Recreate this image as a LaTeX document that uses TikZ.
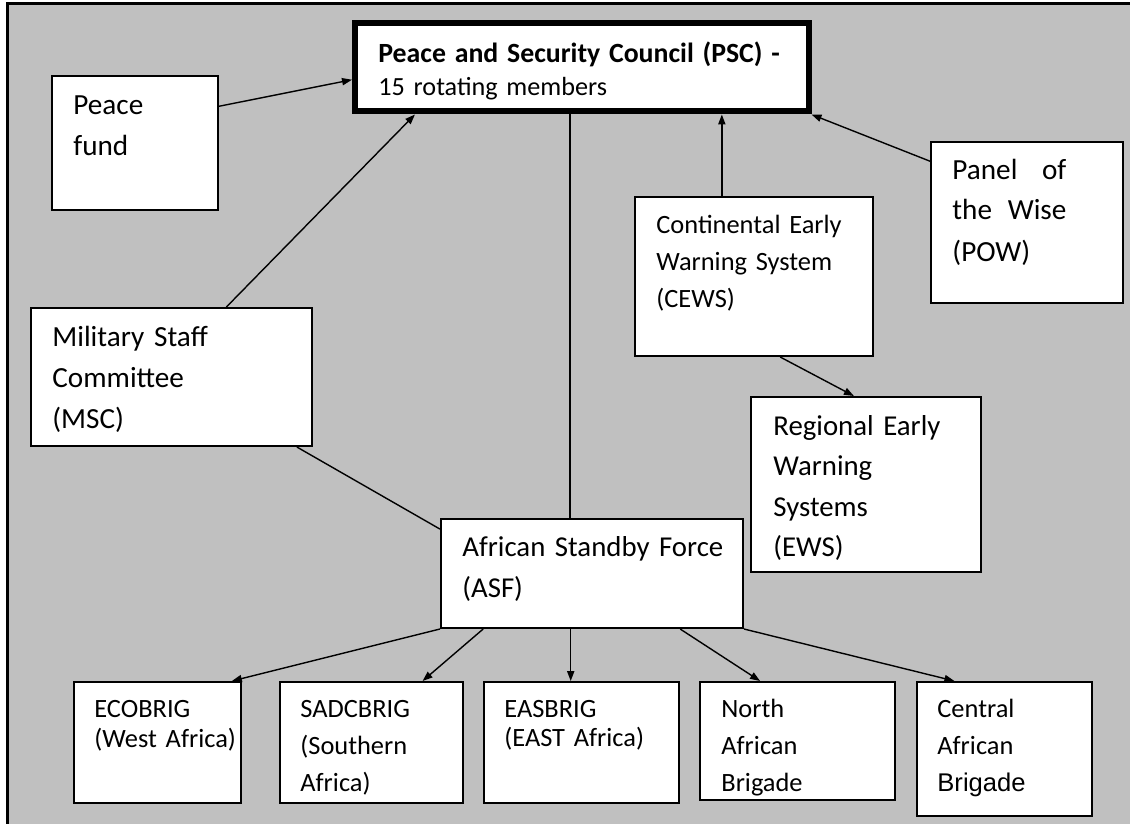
\documentclass[tikz,border=0pt]{standalone}
\usepackage{fontspec}
\setmainfont{Carlito}
\newfontfamily\arialfont{Liberation Sans}
\usepackage{tikz}
\usetikzlibrary{arrows.meta, calc, fit}
\definecolor{panelgray}{RGB}{192,192,192}
\tikzset{
  unit/.style={draw, fill=white, line width=1pt, inner sep=0pt},
  lbl/.style={anchor=base west, inner sep=0pt, align=left, text width=#1},
  lbl/.default=230pt,
  link/.style={line width=0.7pt},
  arr/.style={link, -{Triangle[length=5pt,width=3.6pt]}},
}
\newcommand{\bigfont}[1]{\fontsize{14.6}{#1}\selectfont}
\newcommand{\smallfont}[1]{\fontsize{13.2}{#1}\selectfont}

\begin{document}
\begin{tikzpicture}[x=0.5pt, y=-0.5pt]
  \useasboundingbox (0,0) rectangle (1130,824);
  \fill[panelgray] (7.5,3.5) rectangle (1130,824);
  \draw[line width=1.5pt] (7.5,824) -- (7.5,3.5) -- (1130,3.5);

  % boxes
  \node[unit, line width=3pt, fit={(355,23.5) (808.5,111.5)}] (psc) {};
  \node[unit, fit={(52,76) (218,210)}] (fund) {};
  \node[unit, fit={(31,308) (312,446)}] (msc) {};
  \node[unit, fit={(635,197) (873,356)}] (cews) {};
  \node[unit, fit={(931,142) (1123,303)}] (pow) {};
  \node[unit, fit={(751,397) (981,572)}] (rews) {};
  \node[unit, fit={(441,519) (743,628)}] (asf) {};
  \node[unit, fit={(74,682) (241,803)}] (eco) {};
  \node[unit, fit={(280,682) (463,803)}] (sadc) {};
  \node[unit, fit={(484,682) (679,803)}] (eas) {};
  \node[unit, fit={(700,682) (895,800)}] (north) {};
  \node[unit, fit={(917,682) (1092,816)}] (central) {};

  % texts
  \node[lbl, font=\bigfont{20.5}] (fund-t) at (73,115) {Peace\\fund};
  \node[lbl, font=\fontsize{13.1}{16.5}\selectfont] (psc-t) at (378,63)
    {{\fontsize{13.9}{16.5}\selectfont\bfseries Peace and Security Council (PSC) -}\\15 rotating members};
  \node[lbl, font=\bigfont{20.5}] (msc-t) at (52,346) {Military Staff\\Committee\\(MSC)};
  \node[lbl, font=\smallfont{18.5}] (cews-t) at (656,233)
    {Continental Early\\Warning System\\(CEWS)};
  \node[lbl=57pt, font=\bigfont{20.5}] (pow-t) at (952,179) {Panel\hfill of\\the\hfill Wise\\(POW)};
  \node[lbl, font=\fontsize{14.4}{20.3}\selectfont] (rews-t) at (773,435) {Regional Early\\Warning\\Systems\\(EWS)};
  \node[lbl, font=\fontsize{14.4}{20.5}\selectfont] (asf-t) at (462,556) {African Standby Force\\(ASF)};
  \node[lbl, font=\smallfont{15}] (eco-t) at (94,717) {ECOBRIG\\(West Africa)};
  \node[lbl, font=\smallfont{18.5}] (sadc-t) at (300,717) {SADCBRIG\\(Southern\\Africa)};
  \node[lbl, font=\smallfont{14.5}] (eas-t) at (504,717) {EASBRIG\\(EAST Africa)};
  \node[lbl, font=\smallfont{18.7}] (north-t) at (721,717) {North\\African\\Brigade};
  \node[lbl, font=\smallfont{18.5}] (central-t) at (937,717)
    {Central\\African\\{\arialfont\fontsize{12.8}{18}\selectfont Brigade}};

  % links to the council
  \draw[arr] ($(fund.north east)!0.23!(fund.south east)$) -- ($(psc.north west)!0.63!(psc.south west)$);
  \draw[arr] ($(msc.north west)!0.694!(msc.north east)$) -- ($(psc.south west)!0.137!(psc.south east)$);
  \draw[arr] ($(pow.north west)!0.124!(pow.south west)$) -- (psc.south east);
  \coordinate (cews-top) at ($(cews.north west)!0.366!(cews.north east)$);
  \draw[arr] (cews-top) -- (cews-top |- psc.south);
  \draw[arr] ($(cews.south west)!0.609!(cews.south east)$) -- ($(rews.north west)!0.448!(rews.north east)$);
  \coordinate (psc-foot) at ($(psc.south west)!0.474!(psc.south east)$);
  \draw[link] (psc-foot) -- (psc-foot |- asf.north);
  \draw[link] ($(msc.south west)!0.943!(msc.south east)$) -- ($(asf.north west)!0.1!(asf.south west)$);

  % standby force to the brigades
  \draw[arr] (asf.south west) -- ($(eco.north west)!0.94!(eco.north east)$);
  \draw[arr] ($(asf.south west)!0.142!(asf.south east)$) -- ($(sadc.north west)!0.776!(sadc.north east)$);
  \coordinate (asf-foot) at ($(asf.south west)!0.43!(asf.south east)$);
  \draw[arr] (asf-foot) -- (asf-foot |- eas.north);
  \draw[arr] ($(asf.south west)!0.79!(asf.south east)$) -- ($(north.north west)!0.31!(north.north east)$);
  \draw[arr] (asf.south east) -- ($(central.north west)!0.217!(central.north east)$);
\end{tikzpicture}
\end{document}
